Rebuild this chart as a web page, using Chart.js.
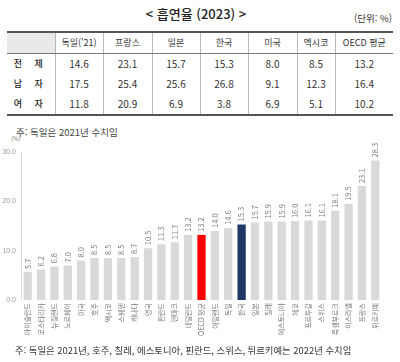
<!DOCTYPE html>
<html lang="ko">
<head>
<meta charset="UTF-8">
<title>흡연율 (2023)</title>
<script src="https://cdn.jsdelivr.net/npm/chart.js"></script>
<style>
    html, body { margin: 0; padding: 0; background: #fff; }
    body { width: 400px; height: 362px; position: relative; overflow: hidden;
           font-family: "Noto Sans CJK KR", sans-serif; color: #333; }
    .title { position: absolute; left: 0; width: 392px; top: 4px; text-align: center;
             font-size: 13px; font-weight: 500; color: #222; line-height: 20px; }
    .unit { position: absolute; right: 8px; top: 11px; font-size: 9.5px; line-height: 14px; color: #333; }
    table { position: absolute; left: 7px; top: 31px; width: 386px; border-collapse: collapse;
            border-top: 2px solid #555; border-bottom: 2px solid #555; table-layout: fixed; }
    td, th { padding: 0; text-align: center; font-size: 9px; font-weight: normal; color: #333;
             border-left: 1px solid #b8b8b8; height: 20px; line-height: 20px; }
    th { border-bottom: 1px solid #777; height: 20px; }
    tr > :first-child { border-left: none; }
    th.corner { background: #e9e9e9; }
    td.num { font-family: "Liberation Sans Narrow", "Noto Sans CJK KR", sans-serif; font-size: 10px; }
    td.row { letter-spacing: 5px; font-weight: 500; color: #222; }
    .note1 { position: absolute; left: 16px; top: 125px; font-size: 9.5px; line-height: 14px; color: #444; }
    .pct { position: absolute; left: 11px; top: 135px; font-size: 6px; line-height: 8px; color: #777; }
    .note2 { position: absolute; left: 15px; top: 343px; font-size: 9.4px; line-height: 14px; color: #333; white-space: nowrap; }
    #wrap { position: absolute; left: 0; top: 135px; width: 392px; height: 210px; }
</style>
</head>
<body>
<div class="title">&lt; 흡연율 (2023) &gt;</div>
<div class="unit">(단위: %)</div>
<table id="tbl"></table>
<div class="note1">주: 독일은 2021년 수치임</div>
<div class="pct">(%)</div>
<div id="wrap"><canvas id="myChart"></canvas></div>
<div class="note2">주: 독일은 2021년, 호주, 칠레, 에스토니아, 핀란드, 스위스, 튀르키예는 2022년 수치임</div>
<script>
    // table data
    const tableCols = ['독일(\'21)', '프랑스', '일본', '한국', '미국', '멕시코', 'OECD 평균'];
    const tableRows = ['전  체', '남  자', '여  자'];
    const totalRow = [14.6, 23.1, 15.7, 15.3, 8.0, 8.5, 13.2];
    const maleRow = [17.5, 25.4, 25.6, 26.8, 9.1, 12.3, 16.4];
    const femaleRow = [11.8, 20.9, 6.9, 3.8, 6.9, 5.1, 10.2];

    // chart data
    const countries = ['아이슬란드', '코스타리카', '뉴질랜드', '노르웨이', '미국', '호주', '멕시코', '스웨덴', '캐나다',
        '영국', '핀란드', '덴마크', '네덜란드', 'OECD 평균', '아일랜드', '독일', '한국', '일본', '칠레', '에스토니아',
        '체코', '포르투갈', '스위스', '룩셈부르크', '이스라엘', '프랑스', '튀르키예'];
    const smokingRate = [5.7, 6.2, 6.8, 7.0, 8.0, 8.5, 8.5, 8.5, 8.7, 10.5, 11.3, 11.7, 13.2, 13.2, 14.0, 14.6, 15.3,
        15.7, 15.9, 15.9, 16.0, 16.1, 16.1, 18.1, 19.5, 23.1, 28.3];

    // build table
    const colWidths = [48, 48, 49, 48, 48, 49, 38, 58];
    let html = '<colgroup>' + colWidths.map(w => '<col style="width:' + w + 'px">').join('') + '</colgroup>';
    html += '<tr><th class="corner"></th>' + tableCols.map(c => '<th>' + c + '</th>').join('') + '</tr>';
    [totalRow, maleRow, femaleRow].forEach((row, i) => {
        html += '<tr><td class="row">' + tableRows[i] + '</td>' +
            row.map(v => '<td class="num">' + v.toFixed(1) + '</td>').join('') + '</tr>';
    });
    document.getElementById('tbl').innerHTML = html;

    const barColors = countries.map(c => c === 'OECD 평균' ? '#ff0000' : (c === '한국' ? '#1f3864' : '#d9d9d9'));

    const valueLabels = {
        id: 'valueLabels',
        afterDatasetsDraw(chart) {
            const ctx = chart.ctx;
            const meta = chart.getDatasetMeta(0);
            ctx.save();
            ctx.font = '7.5px "Noto Sans CJK KR", sans-serif';
            ctx.fillStyle = '#808080';
            ctx.textAlign = 'left';
            ctx.textBaseline = 'middle';
            meta.data.forEach((bar, i) => {
                ctx.save();
                ctx.translate(bar.x, bar.y - 3);
                ctx.rotate(-Math.PI / 2);
                ctx.fillText(smokingRate[i].toFixed(1), 0, 0);
                ctx.restore();
            });
            ctx.restore();
        }
    };

    const ctx = document.getElementById('myChart').getContext('2d');
    new Chart(ctx, {
        type: 'bar',
        data: {
            labels: countries,
            datasets: [{
                data: smokingRate,
                backgroundColor: barColors,
                barPercentage: 0.62,
                categoryPercentage: 1
            }]
        },
        options: {
            responsive: true,
            maintainAspectRatio: false,
            animation: false,
            layout: { padding: { top: 17, right: 10, left: 0, bottom: 0 } },
            plugins: {
                legend: { display: false },
                tooltip: { enabled: false }
            },
            scales: {
                x: {
                    afterFit: s => { s.height = 45; },
                    grid: { display: false, drawTicks: false },
                    border: { display: false },
                    ticks: {
                        autoSkip: false,
                        minRotation: 90,
                        maxRotation: 90,
                        padding: 3,
                        color: '#777',
                        font: { family: '"Noto Sans CJK KR", sans-serif', size: 7 }
                    }
                },
                y: {
                    min: 0,
                    max: 30,
                    afterFit: s => { s.width = 21; },
                    grid: { display: false, drawTicks: false },
                    border: { display: true, color: '#dcdcdc', width: 1 },
                    ticks: {
                        stepSize: 10,
                        padding: 5,
                        color: '#999',
                        font: { family: '"Liberation Sans", sans-serif', size: 7 },
                        callback: v => v.toFixed(1)
                    }
                }
            }
        },
        plugins: [valueLabels]
    });
</script>
</body>
</html>
